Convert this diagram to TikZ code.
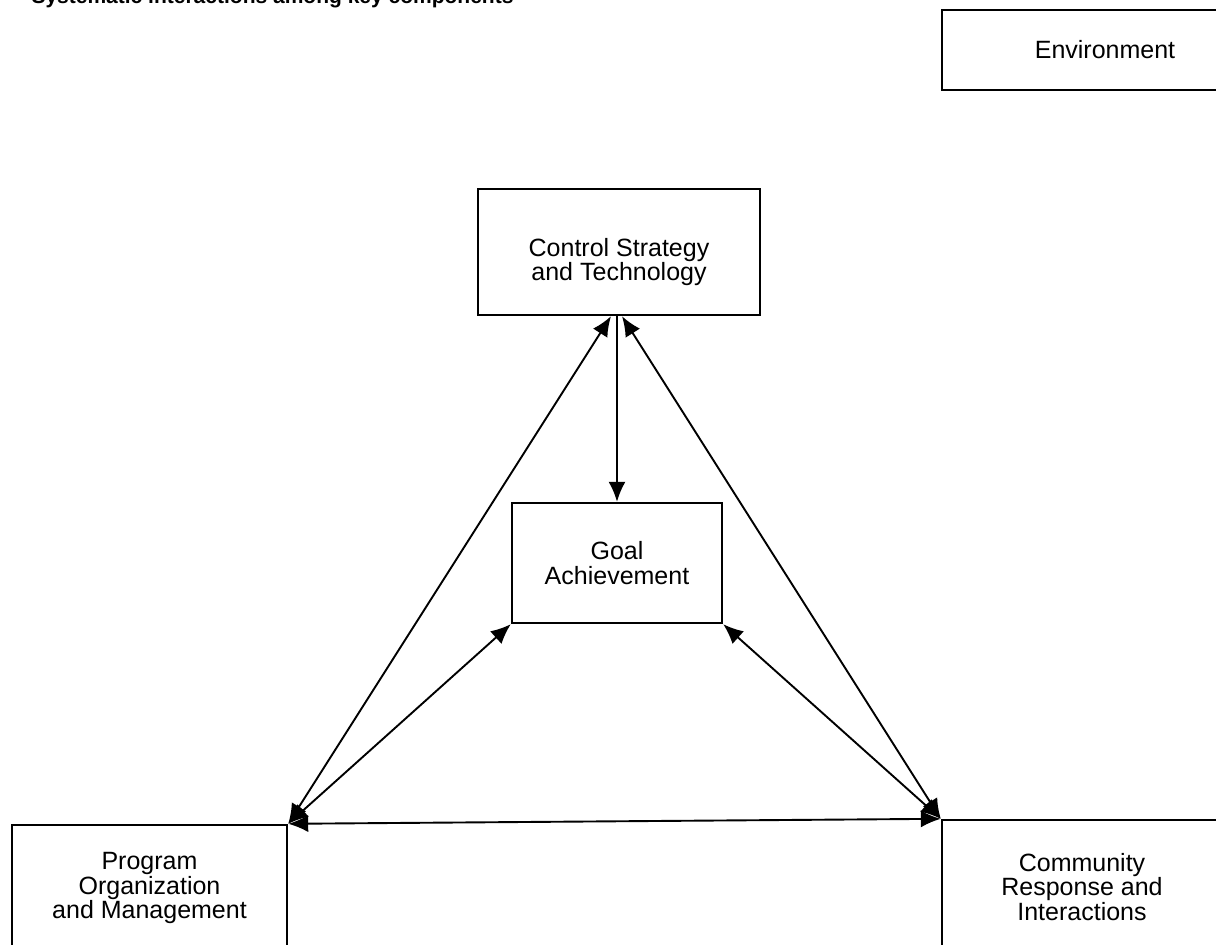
\documentclass[tikz,border=0pt]{standalone}
\usepackage{fontspec}
\setmainfont{Liberation Sans}
\usepackage{tikz}
\usetikzlibrary{positioning}
\usetikzlibrary{shapes,arrows,calc,arrows.meta}

\begin{document}
\begin{tikzpicture}[x=1pt, y=-1pt,
    block/.style={draw, rectangle, line width=2.4pt, align=center,
      font=\fontsize{25}{21}\selectfont},
    link/.style={{Latex[length=20pt,width=17pt]}-{Latex[length=20pt,width=17pt]}, line width=1.9pt}]
    \useasboundingbox (0,0) rectangle (1216,945);
    % Nodes
    \node [anchor=base west, font=\fontsize{21}{21}\selectfont\bfseries] (title) at (28,3) {Systematic interactions among key components};
    \node [block, minimum width=326pt, minimum height=80pt] (env) at (1105,50) {Environment};
    \node [block, minimum width=282pt, minimum height=126pt] (ctrl) at (619,252) {\rule{0pt}{38pt}Control Strategy\\and Technology};
    \node [block, minimum width=210pt, minimum height=120pt, font=\fontsize{25}{25}\selectfont] (goal) at (617,563) {Goal\\Achievement};
    \node [block, minimum width=275pt, minimum height=126pt] (prog) at (149.5,888) {Program\\Organization\\and Management};
    \node [block, minimum width=280pt, minimum height=134pt] (comm) at (1082,887) {Community\\Response and\\Interactions};
    % Arrows
    \draw [link] ([xshift=-6pt]ctrl.south -| goal.north) -- (prog.north east);
    \draw [link] ([xshift=5pt]ctrl.south -| goal.north) -- (comm.north west);
    \draw [-{Latex[length=20pt,width=17pt]}, line width=1.9pt] (ctrl.south -| goal.north) -- (goal.north);
    \draw [link] (goal.south west) -- (prog.north east);
    \draw [link] (goal.south east) -- (comm.north west);
    \draw [link] (prog.north east) -- (comm.north west);
\end{tikzpicture}
\end{document}
